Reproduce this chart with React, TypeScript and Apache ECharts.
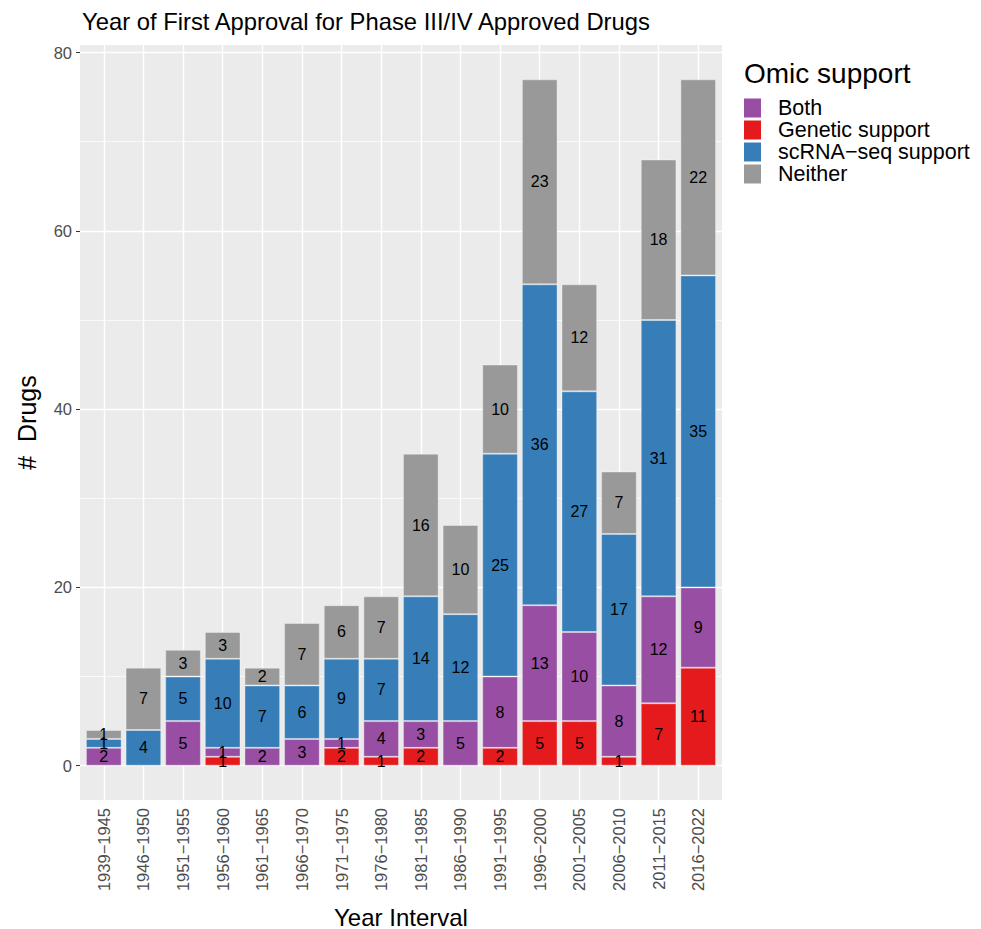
import React, { useEffect, useRef } from "react";
import * as echarts from "echarts";

const categories = [
  "1939−1945", "1946−1950", "1951−1955", "1956−1960", "1961−1965", "1966−1970",
  "1971−1975", "1976−1980", "1981−1985", "1986−1990", "1991−1995", "1996−2000",
  "2001−2005", "2006−2010", "2011−2015", "2016−2022",
];
const seriesNames = ["Both", "Genetic support", "scRNA−seq support", "Neither"];
const geneticSupport = [0, 0, 0, 1, 0, 0, 2, 1, 2, 0, 2, 5, 5, 1, 7, 11];
const bothSupport = [2, 0, 5, 1, 2, 3, 1, 4, 3, 5, 8, 13, 10, 8, 12, 9];
const scrnaSupport = [1, 4, 5, 10, 7, 6, 9, 7, 14, 12, 25, 36, 27, 17, 31, 35];
const neitherSupport = [1, 7, 3, 3, 2, 7, 6, 7, 16, 10, 10, 23, 12, 7, 18, 22];
const yTicks = [0, 20, 40, 60, 80];
const yMinorTicks = [10, 30, 50, 70];

const FONT = "'Liberation Sans', Arial, Helvetica, sans-serif";
const W = 981;
const H = 929;
const PANEL_L = 80;
const PANEL_R = 722;
const PANEL_T = 45;
const PANEL_B = 800;
const X_MIN = 0.4;
const X_MAX = categories.length + 0.6;
const Y_MIN = -3.85;
const Y_MAX = 80.85;

export default function App() {
  const ref = useRef<HTMLDivElement>(null);
  useEffect(() => {
    if (!ref.current) return;
    const chart = echarts.init(ref.current, null, { renderer: "svg" });
    const unit = (PANEL_R - PANEL_L) / (X_MAX - X_MIN);
    const innerL = PANEL_L + (0.5 - X_MIN) * unit;
    const innerR = PANEL_R - (X_MAX - (categories.length + 0.5)) * unit;
    const xs = categories.map((_, i) => i + 1);
    const mk = (name: string, vals: number[], color: string) => ({
      name,
      type: "bar",
      stack: "total",
      xAxisIndex: 1,
      yAxisIndex: 1,
      z: 3,
      barWidth: "90%",
      data: vals.map((v) => (v === 0 ? "-" : v)),
      itemStyle: { color, borderColor: "rgba(255,255,255,0.35)", borderWidth: 1 },
      label: {
        show: true,
        position: "inside",
        color: "#000",
        fontSize: 16,
        fontFamily: FONT,
      },
      emphasis: { disabled: true },
    });
    const major = { color: "#ffffff", width: 1.4, type: "solid" };
    const minor = { color: "#ffffff", width: 0.7, type: "solid" };
    const gridLines = [
      ...yTicks.map((v) => ({ yAxis: v, lineStyle: major })),
      ...yMinorTicks.map((v) => ({ yAxis: v, lineStyle: minor })),
      ...xs.map((v) => ({ xAxis: v, lineStyle: major })),
    ];
    chart.setOption({
      animation: false,
      grid: [
        {
          left: PANEL_L,
          right: W - PANEL_R,
          top: PANEL_T,
          bottom: H - PANEL_B,
          show: true,
          backgroundColor: "#EBEBEB",
          borderWidth: 0,
        },
        {
          left: innerL,
          right: W - innerR,
          top: PANEL_T,
          bottom: H - PANEL_B,
        },
      ],
      xAxis: [
        {
          gridIndex: 0,
          type: "value",
          min: X_MIN,
          max: X_MAX,
          show: false,
        },
        {
          gridIndex: 1,
          type: "category",
          data: categories,
          boundaryGap: true,
          axisLine: { show: false },
          splitLine: { show: false },
          axisTick: { show: true, length: 4, alignWithLabel: true, lineStyle: { color: "#333333", width: 1 } },
          axisLabel: {
            interval: 0,
            rotate: 90,
            margin: 8,
            color: "#4D4D4D",
            fontSize: 16.5,
            fontFamily: FONT,
          },
        },
      ],
      yAxis: [
        {
          gridIndex: 0,
          type: "value",
          min: Y_MIN,
          max: Y_MAX,
          show: false,
        },
        {
          gridIndex: 1,
          type: "value",
          min: Y_MIN,
          max: Y_MAX,
          offset: innerL - PANEL_L,
          axisLine: { show: false },
          splitLine: { show: false },
          axisTick: { show: true, length: 4, customValues: yTicks, lineStyle: { color: "#333333", width: 1 } },
          axisLabel: {
            customValues: yTicks,
            margin: 8,
            color: "#4D4D4D",
            fontSize: 16.5,
            fontFamily: FONT,
          },
        },
      ],
      legend: {
        orient: "vertical",
        left: 744,
        top: 97,
        padding: 0,
        icon: "rect",
        itemWidth: 17,
        itemHeight: 19,
        itemGap: 0,
        data: seriesNames,
        itemStyle: { borderWidth: 0 },
        textStyle: { fontSize: 21.5, lineHeight: 21, color: "#000", fontFamily: FONT, padding: [0, 0, 0, 12] },
        selectedMode: false,
      },
      series: [
        {
          type: "line",
          xAxisIndex: 0,
          yAxisIndex: 0,
          data: [],
          z: 1,
          silent: true,
          markLine: {
            silent: true,
            z: 1,
            symbol: ["none", "none"],
            label: { show: false },
            emphasis: { disabled: true },
            data: gridLines,
          },
        },
        mk(seriesNames[1], geneticSupport, "#E41A1C"),
        mk(seriesNames[0], bothSupport, "#984EA3"),
        mk(seriesNames[2], scrnaSupport, "#377EB8"),
        mk(seriesNames[3], neitherSupport, "#999999"),
      ],
      graphic: [
        {
          type: "text",
          left: 82,
          top: 9,
          style: { text: "Year of First Approval for Phase III/IV Approved Drugs", fontSize: 23.8, fontFamily: FONT, fill: "#000" },
        },
        {
          type: "text",
          x: (PANEL_L + PANEL_R) / 2,
          y: 917,
          style: { text: "Year Interval", fontSize: 24, fontFamily: FONT, fill: "#000", align: "center", verticalAlign: "middle" },
        },
        {
          type: "text",
          x: 27,
          y: (PANEL_T + PANEL_B) / 2,
          rotation: Math.PI / 2,
          style: { text: "#  Drugs", fontSize: 25, fontFamily: FONT, fill: "#000", align: "center", verticalAlign: "middle" },
        },
        {
          type: "text",
          x: 744,
          y: 73,
          style: { text: "Omic support", fontSize: 28, fontFamily: FONT, fill: "#000", align: "left", verticalAlign: "middle" },
        },
      ],
    });
    return () => chart.dispose();
  }, []);
  return <div ref={ref} style={{ width: W, height: H, position: "absolute", left: 0, top: 0 }} />;
}
